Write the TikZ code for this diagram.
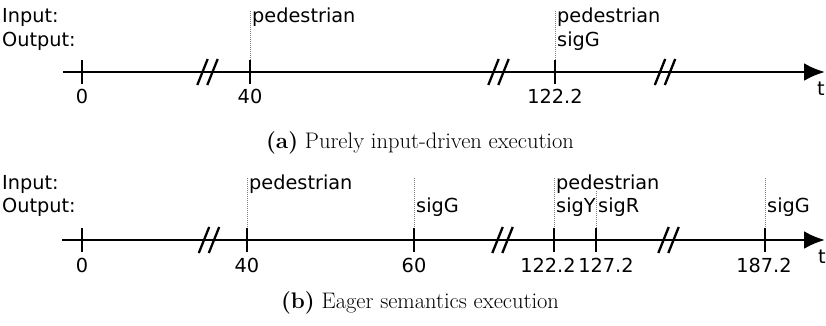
\documentclass[tikz,border=0pt]{standalone}
\usepackage{fontspec}
\newfontfamily\lblfont{DejaVu Sans}
\usetikzlibrary{arrows.meta}
\begin{document}
\begin{tikzpicture}[x=1pt,y=-1pt,
  lbl/.style={font=\lblfont\fontsize{19.3}{19.3}\selectfont, inner sep=0pt},
  captext/.style={font=\fontsize{22.5}{22.5}\selectfont, inner sep=0pt, anchor=base},
  axisline/.style={line width=2.8pt, -{Latex[length=21pt,width=18pt]}},
  tickmark/.style={line width=1.6pt},
  guide/.style={gray, line width=0.7pt, dash pattern=on 1pt off 1pt},
  brk/.style={line width=2.3pt}]
\useasboundingbox (0,0) rectangle (826,325);

% ---------- (a) purely input-driven ----------
\node[lbl, anchor=base west] (inA)  at (2,22) {Input:};
\node[lbl, anchor=base west] (outA) at (2,46) {Output:};
\coordinate (aS) at (63,72);
\coordinate (aE) at (825,72);
\draw[axisline] (aS) -- (aE);
\node[lbl, anchor=base west] (tA) at (817,95) {t};
\foreach \x/\lab/\n in {82/0/0, 250/40/1, 555/122.2/2}{
  \coordinate (aT\n) at (\x,60);
  \coordinate (aB\n) at (\x,84);
  \draw[tickmark] (aT\n) -- (aB\n);
  \node[lbl, anchor=base] (aL\n) at (\x,103) {\lab};
}
% axis breaks: two slanted strokes across the line
\foreach \c in {207.5, 498.5, 665}{
  \draw[brk] (\c-10.2,85) -- (\c+0.2,59);
  \draw[brk] (\c-0.2,85) -- (\c+10.2,59);
}
\coordinate (aG1) at (250,11);
\coordinate (aG2) at (555,11);
\draw[guide] (aG1) -- (aT1);
\draw[guide] (aG2) -- (aT2);
\node[lbl, anchor=base west] (aP1) at (252,22) {pedestrian};
\node[lbl, anchor=base west] (aP2) at (557,22) {pedestrian};
\node[lbl, anchor=base west] (aS2) at (557,46) {sigG};
\node[captext] (capA) at (420,148) {\textbf{(a)} Purely input-driven execution};

% ---------- (b) eager semantics ----------
\node[lbl, anchor=base west] (inB)  at (2,189) {Input:};
\node[lbl, anchor=base west] (outB) at (2,212) {Output:};
\coordinate (bS) at (62,240);
\coordinate (bE) at (825,240);
\draw[axisline] (bS) -- (bE);
\node[lbl, anchor=base west] (tB) at (818,263) {t};
\foreach \x/\lx/\lab/\n in {82/82/0/0, 247/247/40/1, 414/414/60/2, 554/548/122.2/3, 596/606/127.2/4, 765/764/187.2/5}{
  \coordinate (bT\n) at (\x,228);
  \coordinate (bB\n) at (\x,252);
  \draw[tickmark] (bT\n) -- (bB\n);
  \node[lbl, anchor=base] (bL\n) at (\lx,272) {\lab};
}
\foreach \c in {209, 502.5, 668.5}{
  \draw[brk] (\c-10.2,253) -- (\c+0.2,227);
  \draw[brk] (\c-0.2,253) -- (\c+10.2,227);
}
\coordinate (bG1) at (247,178);
\coordinate (bG2) at (414,178);
\coordinate (bG3) at (554,178);
\coordinate (bG4) at (596,191);
\coordinate (bG5) at (765,178);
\foreach \n in {1,...,5}{ \draw[guide] (bG\n) -- (bT\n); }
\node[lbl, anchor=base west] (bP1) at (249,189) {pedestrian};
\node[lbl, anchor=base west] (bO2) at (416,212) {sigG};
\node[lbl, anchor=base west] (bP3) at (556,189) {pedestrian};
\node[lbl, anchor=base west] (bO3) at (556,212) {sigY};
\node[lbl, anchor=base west] (bO4) at (598,212) {sigR};
\node[lbl, anchor=base west] (bO5) at (767,212) {sigG};
\node[captext] (capB) at (420,308) {\textbf{(b)} Eager semantics execution};
\end{tikzpicture}
\end{document}
